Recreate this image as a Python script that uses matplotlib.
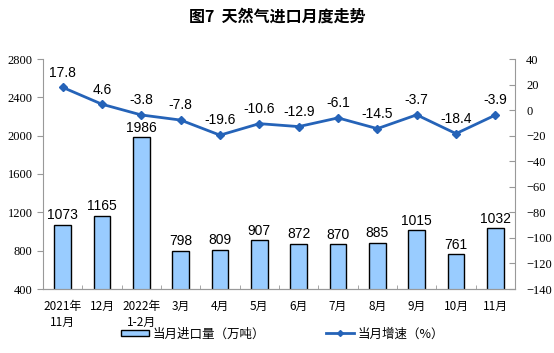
import numpy as np
import matplotlib.pyplot as plt
from matplotlib.lines import Line2D
from matplotlib.patches import Patch

plt.rcParams['font.family'] = ['Noto Sans CJK SC', 'DejaVu Sans']

months = ['2021年\n11月', '12月', '2022年\n1-2月', '3月', '4月', '5月',
          '6月', '7月', '8月', '9月', '10月', '11月']
volume = [1073, 1165, 1986, 798, 809, 907, 872, 870, 885, 1015, 761, 1032]
growth = [17.8, 4.6, -3.8, -7.8, -19.6, -10.6, -12.9, -6.1, -14.5, -3.7, -18.4, -3.9]

bar_color = '#99CCFF'
line_color = '#2563B8'

fig = plt.figure(figsize=(5.54, 3.53), dpi=100)
ax = fig.add_axes([43 / 554, 1 - 289 / 353, (515 - 43) / 554, (289 - 59) / 353])
ax2 = ax.twinx()

x = np.arange(len(months))
ax.bar(x, volume, width=0.42, color=bar_color, edgecolor='black', linewidth=1.0, zorder=2)
for xi, v in zip(x, volume):
    ax.text(xi, v + 25, str(v), ha='center', va='bottom', fontsize=10,
            family='Liberation Sans')

ax2.plot(x, growth, color=line_color, lw=2, marker='D', ms=4, zorder=3)
for xi, g in zip(x, growth):
    ax2.text(xi, g + 6, f'{g:.1f}', ha='center', va='bottom', fontsize=10,
             family='Liberation Sans')

ax.set_xlim(-0.5, len(months) - 0.5)
ax.set_ylim(400, 2800)
ax.set_yticks(np.arange(400, 2801, 400))
ax2.set_ylim(-140, 40)
ax2.set_yticks(np.arange(-140, 41, 20))

for a in (ax, ax2):
    a.spines['top'].set_visible(False)
    for s in a.spines.values():
        s.set_color('#999999')
        s.set_linewidth(0.8)
ax.spines['right'].set_visible(False)
ax2.spines['left'].set_visible(False)

ax.set_xticks(x)
ax.set_xticklabels(months, fontsize=8.5, linespacing=1.25)
ax.set_xticks(np.arange(-0.5, len(months), 1), minor=True)
ax.tick_params(axis='x', which='major', length=0, pad=8)
ax.tick_params(axis='x', which='minor', length=3, direction='in', color='#999999')
ax.tick_params(axis='y', length=4, direction='out', color='#999999', labelsize=9)
ax2.tick_params(axis='y', length=4, direction='in', color='#999999', labelsize=9, pad=8)
for lab in ax.get_yticklabels() + ax2.get_yticklabels():
    lab.set_family('Liberation Serif')

fig.text(0.5, 1 - 17 / 353, '图7  天然气进口月度走势', ha='center', va='center',
         fontsize=11.5, fontweight='bold')

h1 = Patch(facecolor=bar_color, edgecolor='black', linewidth=1.0)
h2 = Line2D([], [], color=line_color, lw=2, marker='D', ms=3)
fig.legend([h1], ['当月进口量（万吨）'], loc='center', bbox_to_anchor=(193 / 554, 1 - 334 / 353),
           frameon=False, fontsize=9, handlelength=2.2, handleheight=0.45, handletextpad=0.3)
fig.legend([h2], ['当月增速（%）'], loc='center', bbox_to_anchor=(385 / 554, 1 - 334 / 353),
           frameon=False, fontsize=9, handlelength=2.2, handletextpad=0.3)

fig.savefig('out.png', dpi=100)
